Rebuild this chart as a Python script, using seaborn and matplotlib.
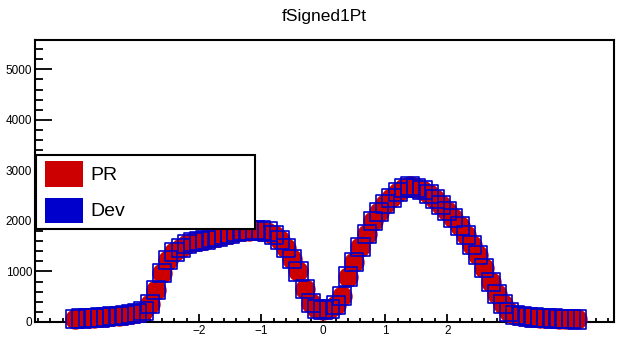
import numpy as np
import pandas as pd
import matplotlib
matplotlib.use("Agg")
import matplotlib.pyplot as plt
from matplotlib.patches import Rectangle
import seaborn as sns

# ---- data ----
x_centers = [-4.0, -3.9, -3.8, -3.7, -3.6, -3.5, -3.4, -3.3, -3.2, -3.1,
             -3.0, -2.9, -2.8, -2.7, -2.6, -2.5, -2.4, -2.3, -2.2, -2.1,
             -2.0, -1.9, -1.8, -1.7, -1.6, -1.5, -1.4, -1.3, -1.2, -1.1,
             -1.0, -0.9, -0.8, -0.7, -0.6, -0.5, -0.4, -0.3, -0.2, -0.1,
             0.0, 0.1, 0.2, 0.3, 0.4, 0.5, 0.6, 0.7, 0.8, 0.9,
             1.0, 1.1, 1.2, 1.3, 1.4, 1.5, 1.6, 1.7, 1.8, 1.9,
             2.0, 2.1, 2.2, 2.3, 2.4, 2.5, 2.6, 2.7, 2.8, 2.9,
             3.0, 3.1, 3.2, 3.3, 3.4, 3.5, 3.6, 3.7, 3.8, 3.9,
             4.0, 4.1]
pr_values = [60, 70, 75, 85, 90, 100, 110, 120, 135, 150,
             170, 220, 350, 640, 970, 1230, 1380, 1470, 1540, 1580,
             1610, 1630, 1660, 1690, 1720, 1750, 1780, 1800, 1810, 1820,
             1810, 1790, 1730, 1620, 1460, 1240, 1000, 660, 380, 260,
             230, 250, 330, 520, 900, 1180, 1480, 1740, 1990, 2180,
             2330, 2450, 2570, 2650, 2690, 2660, 2610, 2530, 2430, 2320,
             2190, 2050, 1900, 1720, 1530, 1320, 1060, 800, 560, 350,
             200, 140, 115, 100, 90, 80, 75, 70, 65, 60,
             55, 50]
dev_values = [60, 70, 75, 85, 90, 100, 110, 120, 135, 150,
              170, 220, 350, 640, 970, 1230, 1380, 1470, 1540, 1580,
              1610, 1630, 1660, 1690, 1720, 1750, 1780, 1800, 1810, 1820,
              1810, 1790, 1730, 1620, 1460, 1240, 1000, 660, 380, 260,
              230, 250, 330, 520, 900, 1180, 1480, 1740, 1990, 2180,
              2330, 2450, 2570, 2650, 2690, 2660, 2610, 2530, 2430, 2320,
              2190, 2050, 1900, 1720, 1530, 1320, 1060, 800, 560, 350,
              200, 140, 115, 100, 90, 80, 75, 70, 65, 60,
              55, 50]
series_labels = ["PR", "Dev"]
x_major_ticks = [-2, -1, 0, 1, 2]
y_major_ticks = [0, 1000, 2000, 3000, 4000, 5000]
title_text = "fSigned1Pt"

RED = "#cc0000"
BLUE = "#0000cc"

sns.set_theme(style="white")
plt.rcParams["font.family"] = ["Liberation Sans", "DejaVu Sans"]

W, H = 617, 337
fig = plt.figure(figsize=(W / 100, H / 100), dpi=100)

def fx(px):
    return px / W

def fy(py):
    return 1 - py / H

L, R, T, B = 35, 614, 40, 322
ax = fig.add_axes([fx(L), fy(B), fx(R) - fx(L), fy(T) - fy(B)])

df_pr = pd.DataFrame({"x": x_centers, "y": pr_values})
df_dev = pd.DataFrame({"x": x_centers, "y": dev_values})

sns.scatterplot(data=df_pr, x="x", y="y", ax=ax, marker="o", s=215,
                color=RED, linewidth=0, clip_on=False, zorder=3, legend=False)
sns.scatterplot(data=df_dev, x="x", y="y", ax=ax, marker="s", s=170,
                color=BLUE, edgecolor=BLUE, linewidth=1.2, clip_on=False,
                zorder=4, legend=False)
ax.collections[-1].set_facecolor("none")
ax.collections[-1].set_edgecolor(BLUE)

ax.set_xlim(-4.65, 4.69)
ax.set_ylim(0, 5580)
ax.set_xlabel("")
ax.set_ylabel("")

ax.set_xticks(x_major_ticks)
ax.set_xticklabels([("\u2212" + str(abs(v))) if v < 0 else str(v) for v in x_major_ticks])
ax.set_xticks([round(v * 0.2, 1) for v in range(-23, 24)], minor=True)
ax.set_yticks(y_major_ticks)
ax.set_yticklabels([str(v) for v in y_major_ticks])
ax.set_yticks(list(range(0, 5600, 200)), minor=True)

ax.tick_params(axis="both", which="both", direction="in", colors="black",
               labelsize=8.5, top=False, right=False, bottom=True, left=True)
ax.tick_params(axis="y", which="major", length=12.2, width=1.3, pad=2)
ax.tick_params(axis="y", which="minor", length=6.1, width=1.3)
ax.tick_params(axis="x", which="major", length=6.1, width=1.3, pad=2)
ax.tick_params(axis="x", which="minor", length=3.0, width=1.3)

for sp in ax.spines.values():
    sp.set_visible(True)
    sp.set_color("black")
    sp.set_linewidth(1.5)

ax.set_title(title_text, fontsize=12.5, pad=14, color="black")

# ---- legend (ROOT style box) ----
lx0, ly0, lx1, ly1 = 36, 155, 255, 229
fig.patches.append(Rectangle((fx(lx0), fy(ly1)), fx(lx1) - fx(lx0), fy(ly0) - fy(ly1),
                             transform=fig.transFigure, facecolor="white",
                             edgecolor="black", linewidth=1.5, zorder=10))
entries = [(series_labels[0], RED, 161, 187), (series_labels[1], BLUE, 198, 223)]
for label, col, top, bot in entries:
    fig.patches.append(Rectangle((fx(45), fy(bot)), fx(83) - fx(45), fy(top) - fy(bot),
                                 transform=fig.transFigure, facecolor=col,
                                 edgecolor="none", zorder=11))
    fig.text(fx(90), fy((top + bot) / 2 + 1), label, fontsize=14, va="center",
             ha="left", color="black", zorder=12)

fig.savefig("out.png", dpi=100)
